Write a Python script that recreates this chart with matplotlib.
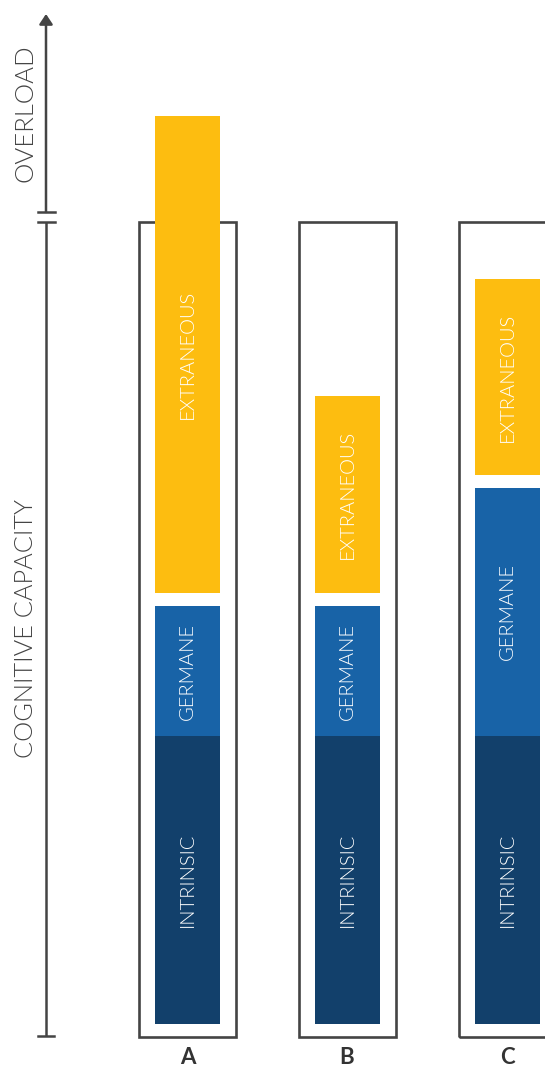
import matplotlib
matplotlib.use("Agg")
import matplotlib.pyplot as plt

# cognitive load per scenario (arbitrary units, base of bars at 0)
scenarios = ['A', 'B', 'C']
intrinsic = [28.8, 28.8, 28.8]
germane = [13.0, 13.0, 24.8]
extraneous = [47.7, 19.7, 19.6]
capacity = 80.2

x_pos = [187.5, 347, 507]
bar_w = 65
box_w = 97
gap = 1.3

c_intr = '#12406B'
c_germ = '#1863A7'
c_extr = '#FDBD10'
c_line = '#444444'
fnt = ['Lato', 'DejaVu Sans']

fig = plt.figure(figsize=(5.45, 10.68), dpi=100)
ax = fig.add_axes([0, 0, 1, 1])
ax.set_xlim(0, 545)
ax.set_ylim(-4.4, 102.4)
ax.axis('off')

for i, s in enumerate(scenarios):
    x = x_pos[i]
    # capacity box
    ax.add_patch(plt.Rectangle((x - box_w / 2, -1.3), box_w, capacity + 1.3,
                               fill=False, ec=c_line, lw=1.9, zorder=1))
    ax.bar(x, intrinsic[i], bar_w, bottom=0, color=c_intr, zorder=2)
    ax.bar(x, germane[i], bar_w, bottom=intrinsic[i], color=c_germ, zorder=2)
    eb = intrinsic[i] + germane[i] + gap
    ax.bar(x, extraneous[i], bar_w, bottom=eb, color=c_extr, zorder=2)
    for lbl, mid in [('INTRINSIC', intrinsic[i] / 2),
                     ('GERMANE', intrinsic[i] + germane[i] / 2),
                     ('EXTRANEOUS', eb + extraneous[i] / 2)]:
        ax.text(x, mid, lbl, rotation=90, color='white', ha='center', va='center',
                fontsize=14.5, fontweight=300, family=fnt, zorder=3)
    ax.text(x, -3.4, s, ha='center', va='center', fontsize=16, fontweight='bold',
            color='#333333', family=fnt)

# left axis with break
ax.plot([46, 46], [-1.2, capacity], color=c_line, lw=1.8, solid_capstyle='butt')
ax.plot([38, 54], [-1.2, -1.2], color=c_line, lw=1.8)
ax.plot([38, 55], [capacity, capacity], color=c_line, lw=1.8)
ax.plot([38, 55], [capacity + 1.0, capacity + 1.0], color=c_line, lw=1.8)
ax.annotate('', xy=(46, 101.0), xytext=(46, capacity + 1.0),
            arrowprops=dict(arrowstyle='-|>,head_length=0.6,head_width=0.4',
                            color=c_line, lw=1.8, shrinkA=0, shrinkB=0))

ax.text(26, 39.6, 'COGNITIVE CAPACITY', rotation=90, ha='center', va='center',
        fontsize=18.3, fontweight=300, color='#444444', family=fnt)
ax.text(26, 91.1, 'OVERLOAD', rotation=90, ha='center', va='center',
        fontsize=18.5, fontweight=300, color='#444444', family=fnt)

fig.savefig('out.png', dpi=100)
